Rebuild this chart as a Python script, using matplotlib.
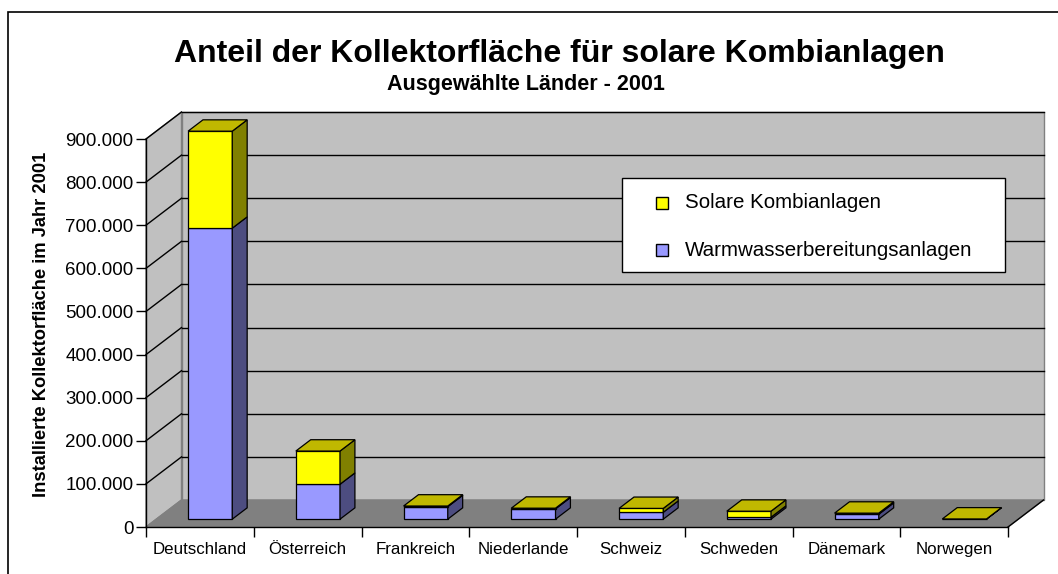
import numpy as np
import matplotlib
matplotlib.use('Agg')
import matplotlib.pyplot as plt
from matplotlib.patches import Polygon, Rectangle
from matplotlib.transforms import IdentityTransform

plt.rcParams['font.family'] = ['Liberation Sans', 'DejaVu Sans']

# data
laender = ['Deutschland', 'Österreich', 'Frankreich', 'Niederlande',
           'Schweiz', 'Schweden', 'Dänemark', 'Norwegen']
warmwasser = [675000, 81000, 29000, 24000, 16000, 4500, 11500, 0]
kombi = [225000, 77000, 1500, 1500, 9000, 14000, 2500, 500]
yticks = np.arange(0, 900001, 100000)

W, H = 1058, 574
fig = plt.figure(figsize=(W / 100, H / 100), dpi=100)
ax = fig.add_axes([146 / W, 1 - 527 / H, (1008 - 146) / W, (527 - 139) / H])
ax.set_xlim(0, len(laender))
ax.set_ylim(0, 900000)
ax.set_autoscale_on(False)
ax.patch.set_visible(False)
for s in ['top', 'right']:
    ax.spines[s].set_visible(False)
for s in ['left', 'bottom']:
    ax.spines[s].set_color('black')
    ax.spines[s].set_linewidth(1)
    ax.spines[s].set_zorder(5)

# depth vector of the 3d look, in pixels
D = np.array([35.5, 27.0])


def P(x, y, f):
    return ax.transData.transform((x, y)) + f * D


def face(pts, color, z, ec='black', lw=0.9):
    ax.add_patch(Polygon(pts, closed=True, facecolor=color, edgecolor=ec, lw=lw,
                         transform=IdentityTransform(), clip_on=False, zorder=z))


def line(p1, p2, color='black', lw=1, z=2):
    ax.plot([p1[0], p2[0]], [p1[1], p2[1]], color=color, lw=lw,
            transform=IdentityTransform(), clip_on=False, zorder=z)


n = len(laender)
top = yticks[-1]
# walls and floor
face([P(0, 0, 1), P(n, 0, 1), P(n, top, 1), P(0, top, 1)], '#c0c0c0', 1, ec='#808080', lw=1)
face([P(0, 0, 0), P(0, 0, 1), P(0, top, 1), P(0, top, 0)], '#c0c0c0', 1, ec='#808080', lw=1)
face([P(0, 0, 0), P(n, 0, 0), P(n, 0, 1), P(0, 0, 1)], '#808080', 1, ec='#808080', lw=1)
line(P(n, 0, 0), P(n, 0, 1), 'black', 1, 2)

# gridlines on side wall and back wall
for v in yticks[1:]:
    line(P(0, v, 0), P(0, v, 1), 'black', 1, 1.5)
    line(P(0, v, 1), P(n, v, 1), 'black', 1, 1.5)

# bars
w = 0.41
f0, f1 = 0.29, 0.71
cols = [('#9999ff', '#4d4d80', '#7a7acc'), ('#ffff00', '#808000', '#c0b800')]
for i in range(n):
    c = i + 0.5
    x0, x1 = c - w / 2, c + w / 2
    segs = [(0, warmwasser[i]), (warmwasser[i], warmwasser[i] + kombi[i])]
    for k, (y0, y1) in enumerate(segs):
        if y1 <= y0:
            continue
        front, side, topc = cols[k]
        z = 3 + k
        face([P(x0, y0, f0), P(x1, y0, f0), P(x1, y1, f0), P(x0, y1, f0)], front, z)
        face([P(x1, y0, f0), P(x1, y0, f1), P(x1, y1, f1), P(x1, y1, f0)], side, z)
        if k == 1:
            face([P(x0, y1, f0), P(x1, y1, f0), P(x1, y1, f1), P(x0, y1, f1)], topc, z)

# axes ticks
ax.set_yticks(yticks)
ax.set_yticklabels([f'{v:,}'.replace(',', '.') for v in yticks])
ax.tick_params(axis='y', direction='out', length=7, width=1, pad=2, labelsize=13.5)
ax.set_xticks(np.arange(0, n + 1))
ax.set_xticklabels([])
ax.tick_params(axis='x', which='major', direction='out', length=7, width=1)
ax.set_xticks(np.arange(n) + 0.5, minor=True)
ax.set_xticklabels(laender, minor=True)
ax.tick_params(axis='x', which='minor', length=0, pad=11, labelsize=12.2)

# titles
fig.text(559 / W, 1 - 62 / H, 'Anteil der Kollektorfläche für solare Kombianlagen',
         ha='center', va='baseline', fontsize=23, fontweight='bold')
fig.text(526 / W, 1 - 90 / H, 'Ausgewählte Länder - 2001',
         ha='center', va='baseline', fontsize=15.5, fontweight='bold')
fig.text(42 / W, 1 - 324 / H, 'Installierte Kollektorfläche im Jahr 2001',
         ha='center', va='center', rotation=90, fontsize=13.2, fontweight='bold')

# legend
fig.add_artist(Rectangle((622 / W, 1 - 272 / H), (1005 - 622) / W, 94 / H,
                         transform=fig.transFigure, facecolor='white', edgecolor='black', lw=1, zorder=6))
for yy, lab, col in [(203, 'Solare Kombianlagen', '#ffff00'),
                     (250, 'Warmwasserbereitungsanlagen', '#9999ff')]:
    fig.add_artist(Rectangle((656 / W, 1 - (yy + 6) / H), 12 / W, 12 / H,
                             transform=fig.transFigure, facecolor=col, edgecolor='black', lw=1, zorder=7))
    fig.text(685 / W, 1 - yy / H, lab, ha='left', va='center', fontsize=14.8, zorder=7)

# outer chart border
fig.add_artist(Rectangle((8 / W, -0.1), 1.2, 1.1 - 12 / H, transform=fig.transFigure,
                         fill=False, edgecolor='black', lw=1.2))

fig.savefig('out.png', dpi=100)
